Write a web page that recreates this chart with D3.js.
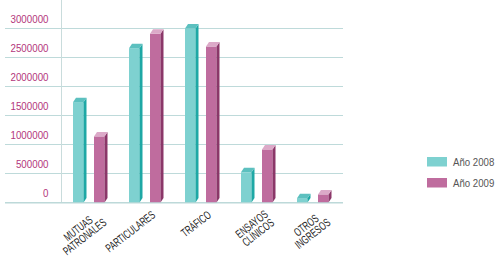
<!DOCTYPE html>
<html>
<head>
<meta charset="utf-8">
<script src="https://cdn.jsdelivr.net/npm/d3@7"></script>
<style>
    body { margin: 0; background: #fff; }
    svg text { font-family: "Liberation Sans", Arial, sans-serif; }
</style>
</head>
<body>
<svg id="chart" width="504" height="259"></svg>
<script>
// data
var categories = [['MUTUAS', 'PATRONALES'], ['PARTICULARES'], ['TRÁFICO'], ['ENSAYOS', 'CLÍNICOS'], ['OTROS', 'INGRESOS']];
var seriesNames = ['Año 2008', 'Año 2009'];
var values2008 = [1730000, 2660000, 3000000, 520000, 75000];
var values2009 = [1140000, 2910000, 2690000, 915000, 140000];
var tickValues = [0, 500000, 1000000, 1500000, 2000000, 2500000, 3000000];

var colors = [
    {front: '#7ed1d0', side: '#1ea8a5', top: '#5cc0bf'},
    {front: '#bf6c9e', side: '#8b3769', top: '#dca9c8'}
];

var svg = d3.select('#chart');
var keys = categories.map(function(c){ return c.join(' '); });

var x0 = d3.scaleBand().domain(keys).range([61, 341]);
var x1 = d3.scaleBand().domain(seriesNames).range([12, 43.5]).paddingInner(0.5);
var y = d3.scaleLinear().domain([0, 3500000]).range([202.5, -0.5]);

var depthX = 3, depthY = 4.5;

// grid lines
svg.append('g').selectAll('line')
    .data(tickValues)
    .enter().append('line')
    .attr('x1', 5).attr('x2', 343)
    .attr('y1', function(d){ return y(d); })
    .attr('y2', function(d){ return y(d); })
    .attr('stroke', d3.rgb(190, 218, 218))
    .attr('stroke-width', 1.2);

// vertical axis line
svg.append('line')
    .attr('x1', 61.5).attr('x2', 61.5)
    .attr('y1', y(3500000)).attr('y2', y(0))
    .attr('stroke', '#c9dcdc').attr('stroke-width', 1);

// tick labels, drawn by d3.axisLeft, then moved above their lines
// (the original font is a condensed sans, so Liberation Sans gets squeezed)
var yAxis = svg.append('g')
    .attr('transform', 'translate(48.5,0) scale(0.85,1)')
    .call(d3.axisLeft(y).tickValues(tickValues).tickFormat(d3.format('d')).tickSize(0).tickPadding(0));
yAxis.select('.domain').remove();
yAxis.selectAll('text')
    .attr('dy', '-0.5em')
    .attr('font-size', 11.5)
    .attr('font-family', null)
    .attr('fill', '#b3367c');

// bars
var rows = keys.map(function(k, i){
    return {key: k, vals: [values2008[i], values2009[i]]};
});

var groups = svg.append('g').selectAll('g')
    .data(rows)
    .enter().append('g')
    .attr('transform', function(d){ return 'translate(' + x0(d.key) + ',0)'; });

groups.selectAll('g')
    .data(function(d){ return d.vals.map(function(v, j){ return {v: v, j: j}; }); })
    .enter().append('g')
    .each(function(d){
        var g = d3.select(this);
        var bx = x1(seriesNames[d.j]);
        var w = x1.bandwidth();
        var top = y(d.v), base = y(0);
        var c = colors[d.j];
        g.append('rect')
            .attr('x', bx).attr('y', top)
            .attr('width', w).attr('height', base - top)
            .attr('fill', c.front);
        g.append('path')
            .attr('d', 'M' + (bx + w) + ',' + top +
                       'L' + (bx + w + depthX) + ',' + (top - depthY) +
                       'L' + (bx + w + depthX) + ',' + (base - depthY) +
                       'L' + (bx + w) + ',' + base + 'Z')
            .attr('fill', c.side);
        g.append('path')
            .attr('d', 'M' + bx + ',' + top +
                       'L' + (bx + depthX) + ',' + (top - depthY) +
                       'L' + (bx + w + depthX) + ',' + (top - depthY) +
                       'L' + (bx + w) + ',' + top + 'Z')
            .attr('fill', c.top);
    });

// baseline over bar bottoms
svg.append('line')
    .attr('x1', 5).attr('x2', 343)
    .attr('y1', y(0) + 0.5).attr('y2', y(0) + 0.5)
    .attr('stroke', '#bcd8d8').attr('stroke-width', 1.2);

// category labels, rotated, lines centred inside the block
var lineH = 10.5;
categories.forEach(function(lines, i){
    var cx = x0(keys[i]) + 29;
    var shift = lines.length > 1 ? 1 : 0;
    var lg = svg.append('g')
        .attr('transform', 'translate(' + (cx + 10) + ',216.5) rotate(-38) translate(' + shift + ',0) scale(0.66,1)');
    var texts = lg.selectAll('text')
        .data(lines)
        .enter().append('text')
        .attr('font-size', 11.8)
        .attr('fill', '#222')
        .attr('text-anchor', 'middle')
        .attr('y', function(d, k){ return k * lineH; })
        .text(function(d){ return d; });
    var maxW = 0;
    texts.each(function(){ maxW = Math.max(maxW, this.getComputedTextLength()); });
    texts.attr('x', -maxW / 2);
});

// legend
var legend = svg.append('g').selectAll('g')
    .data(seriesNames)
    .enter().append('g')
    .attr('transform', function(d, i){ return 'translate(427,' + (157 + i * 21) + ')'; });
legend.append('rect')
    .attr('width', 20).attr('height', 9.5)
    .attr('fill', function(d, i){ return colors[i].front; });
legend.append('text')
    .attr('transform', 'translate(26,9) scale(0.84,1)')
    .attr('font-size', 11.5)
    .attr('fill', '#555')
    .text(function(d){ return d; });
</script>
</body>
</html>
